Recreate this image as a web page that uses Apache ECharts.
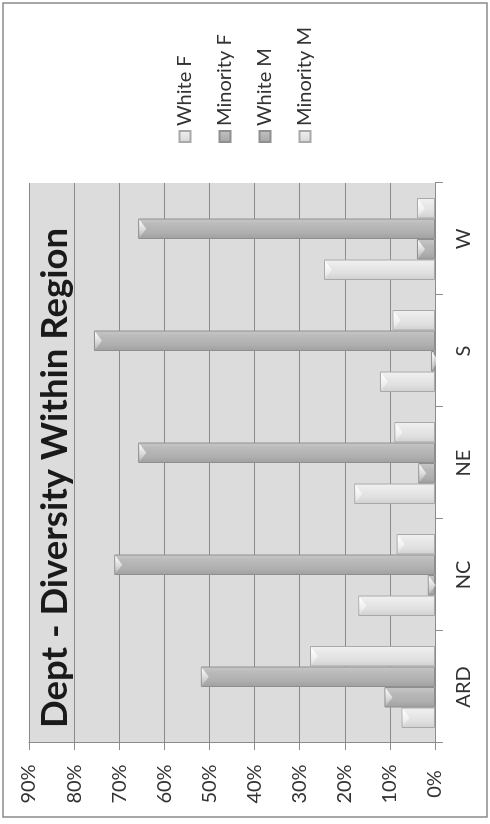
<!DOCTYPE html>
<html>
<head>
<meta charset="utf-8">
<script src="https://cdn.jsdelivr.net/npm/echarts@6/dist/echarts.min.js"></script>
<style>
  html, body { margin: 0; padding: 0; background: #ffffff; overflow: hidden; }
  #frame { width: 490px; height: 824px; position: relative; overflow: hidden; }
  /* The chart is laid out landscape and turned a quarter turn counter-clockwise */
  #chart {
    position: absolute; left: 0; top: 0;
    width: 824px; height: 490px;
    transform-origin: 0 0;
    transform: translate(0, 824px) rotate(-90deg);
  }
</style>
</head>
<body>
<div id="frame"><div id="chart"></div></div>
<script>
// Regions and the share (%) of each group within the department's region
const regions   = ['ARD', 'NC', 'NE', 'S', 'W'];
const whiteF    = [7.4, 17.0, 17.9, 12.2, 24.6];
const minorityF = [11.2, 1.6, 3.7, 0.9, 4.0];
const whiteM    = [51.9, 71.1, 65.8, 75.6, 65.8];
const minorityM = [27.7, 8.5, 9.0, 9.4, 4.0];

// Value axis ticks (percent)
const valueMin = 0;
const valueMax = 90;
const valueStep = 10;

const FONT = 'Lato, "Open Sans", sans-serif';
const BAR_W = 20.5;

function grad(stops) {
  return new echarts.graphic.LinearGradient(0, 0, 1, 0,
    stops.map((c, i) => ({ offset: i / (stops.length - 1), color: c })));
}
const lightFill = grad(['#d0d0d0', '#e0e0e0', '#e8e8e8', '#f2f2f2']);
const darkFill  = grad(['#a0a0a0', '#b0b0b0', '#b8b8b8', '#c8c8c8']);
const capFill = new echarts.graphic.LinearGradient(0, 0, 1, 0, [
  { offset: 0, color: 'rgba(255,255,255,0.15)' },
  { offset: 0.5, color: 'rgba(255,255,255,0.55)' },
  { offset: 1, color: 'rgba(255,255,255,0.95)' }
]);

function barSeries(name, data, light) {
  return {
    name: name,
    type: 'bar',
    data: data,
    barWidth: BAR_W,
    barGap: '0%',
    itemStyle: {
      color: light ? lightFill : darkFill,
      borderColor: light ? '#a9a9a9' : '#8f8f8f',
      borderWidth: 1
    },
    emphasis: { disabled: true }
  };
}

// bevelled highlight at the end of each bar
function capSeries(name, data) {
  return {
    name: name + ' cap',
    type: 'pictorialBar',
    data: data,
    barWidth: BAR_W,
    barGap: '0%',
    symbol: 'path://M0,0 L20,0 L10,7 Z',
    symbolSize: [BAR_W - 2, 7],
    symbolPosition: 'end',
    symbolOffset: [0, 1],
    symbolClip: false,
    z: 3,
    silent: true,
    itemStyle: { color: capFill },
    emphasis: { disabled: true }
  };
}

const chart = echarts.init(document.getElementById('chart'), null, { renderer: 'canvas' });
chart.setOption({
  backgroundColor: '#ffffff',
  animation: false,
  grid: {
    left: 81, right: 183, top: 29, bottom: 55,
    show: true, backgroundColor: '#dcdcdc', borderWidth: 0
  },
  legend: {
    orient: 'vertical',
    left: 676, top: 170,
    itemWidth: 11, itemHeight: 11, itemGap: 20,
    icon: 'rect',
    selectedMode: false,
    textStyle: { fontFamily: FONT, fontSize: 20, lineHeight: 20, color: '#333333' },
    data: ['White F', 'Minority F', 'White M', 'Minority M']
  },
  xAxis: {
    type: 'category',
    data: regions,
    axisLine: { show: true, lineStyle: { color: '#8c8c8c', width: 1 } },
    axisTick: { show: true, length: 8, alignWithLabel: false, lineStyle: { color: '#8c8c8c' } },
    axisLabel: { fontFamily: FONT, fontSize: 20, color: '#333333', margin: 19 },
    splitLine: { show: false }
  },
  yAxis: {
    type: 'value',
    min: valueMin, max: valueMax, interval: valueStep,
    axisLine: { show: true, lineStyle: { color: '#8c8c8c', width: 1 } },
    axisTick: { show: true, length: 7, lineStyle: { color: '#8c8c8c' } },
    axisLabel: {
      fontFamily: FONT, fontSize: 20, color: '#333333',
      align: 'center', margin: 41,
      formatter: '{value}%'
    },
    splitLine: { show: true, lineStyle: { color: '#8a8a8a', width: 1 } }
  },
  series: [
    barSeries('White F', whiteF, true),
    barSeries('Minority F', minorityF, false),
    barSeries('White M', whiteM, false),
    barSeries('Minority M', minorityM, true),
    capSeries('White F', whiteF),
    capSeries('Minority F', minorityF),
    capSeries('White M', whiteM),
    capSeries('Minority M', minorityM)
  ],
  graphic: [
    {
      type: 'rect', silent: true,
      shape: { x: 7, y: 3, width: 814, height: 484 },
      style: { fill: 'none', stroke: '#8a8a8a', lineWidth: 1.5 }
    },
    {
      type: 'text', silent: true, z: 100,
      x: 346, y: 55,
      style: {
        text: 'Dept - Diversity Within Region',
        fontFamily: FONT, fontWeight: 'bold', fontSize: 36.5,
        fill: '#1a1a1a', align: 'center', verticalAlign: 'middle'
      }
    }
  ]
});
</script>
</body>
</html>
